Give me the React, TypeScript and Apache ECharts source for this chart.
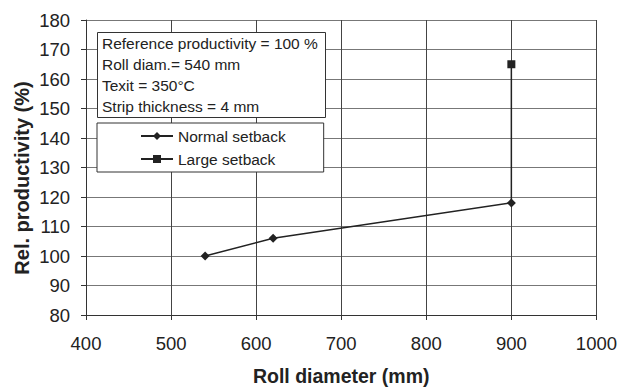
import React, { useEffect, useRef } from "react";
import * as echarts from "echarts";

const normalX = [540, 620, 900];
const normalY = [100, 106, 118];
const largeX = [900, 900];
const largeY = [118, 165];
const infoLines = [
  "Reference productivity = 100 %",
  "Roll diam.= 540 mm",
  "Texit = 350\u00b0C",
  "Strip thickness = 4 mm",
];
const xTitle = "Roll diameter (mm)";
const yTitle = "Rel. productivity (%)";

export default function App() {
  const ref = useRef<HTMLDivElement>(null);
  useEffect(() => {
    const chart = echarts.init(ref.current!, null, { renderer: "svg" });
    const font = "Liberation Sans, Arial, sans-serif";
    chart.setOption({
      animation: false,
      backgroundColor: "#fff",
      textStyle: { fontFamily: font },
      grid: { left: 86, right: 23, top: 20, bottom: 73 },
      xAxis: {
        type: "value",
        min: 400,
        max: 1000,
        interval: 100,
        name: xTitle,
        nameLocation: "middle",
        nameGap: 51,
        nameTextStyle: { fontSize: 19.5, fontWeight: "bold", color: "#222", fontFamily: font },
        axisLine: { show: true, lineStyle: { color: "#333", width: 1 } },
        axisTick: { show: true, length: 5, lineStyle: { color: "#333" } },
        axisLabel: { fontSize: 18.5, color: "#222", margin: 19, fontFamily: font, formatter: (v: number) => String(v) },
        splitLine: { show: true, lineStyle: { color: "#444", width: 1 } },
      },
      yAxis: {
        type: "value",
        min: 80,
        max: 180,
        interval: 10,
        axisLine: { show: true, lineStyle: { color: "#333", width: 1 } },
        axisTick: { show: true, length: 5, lineStyle: { color: "#333" } },
        axisLabel: { fontSize: 18.5, color: "#222", margin: 16, fontFamily: font },
        splitLine: { show: true, lineStyle: { color: "#777", width: 1 } },
      },
      legend: {
        orient: "vertical",
        left: 97,
        top: 123,
        padding: [5, 38, 5, 43],
        itemGap: 7,
        itemWidth: 32,
        itemHeight: 10,
        borderColor: "#333",
        borderWidth: 1,
        backgroundColor: "#fff",
        textStyle: { fontSize: 15.5, color: "#222", fontFamily: font },
        data: ["Normal setback", "Large setback"],
      },
      graphic: [
        {
          type: "text",
          x: 22,
          y: 178,
          rotation: Math.PI / 2,
          style: {
            text: yTitle,
            fontSize: 20,
            fontWeight: "bold",
            fill: "#222",
            fontFamily: font,
            align: "center",
            verticalAlign: "middle",
          },
        },
        {
          type: "rect",
          left: 97,
          top: 32,
          shape: { width: 228, height: 85 },
          style: { fill: "#fff", stroke: "#333", lineWidth: 1 },
          z: 100,
        },
        ...infoLines.map((t, i) => ({
          type: "text",
          left: 102,
          top: 35 + i * 21,
          style: { text: t, fontSize: 15.5, fill: "#222", fontFamily: font },
          z: 101,
        })),
      ],
      series: [
        {
          name: "Normal setback",
          type: "line",
          data: normalX.map((x, i) => [x, normalY[i]]),
          symbol: "diamond",
          symbolSize: 9,
          lineStyle: { color: "#222", width: 1.5 },
          itemStyle: { color: "#222" },
          z: 5,
        },
        {
          name: "Large setback",
          type: "line",
          data: largeX.map((x, i) => ({
            value: [x, largeY[i]],
            symbol: i === largeX.length - 1 ? "rect" : "none",
          })),
          symbol: "rect",
          symbolSize: 8,
          lineStyle: { color: "#222", width: 1.5 },
          itemStyle: { color: "#222" },
          z: 4,
        },
      ],
    });
    return () => chart.dispose();
  }, []);
  return (
    <div
      ref={ref}
      style={{ position: "fixed", left: 0, top: 0, width: 620, height: 391 }}
    />
  );
}
